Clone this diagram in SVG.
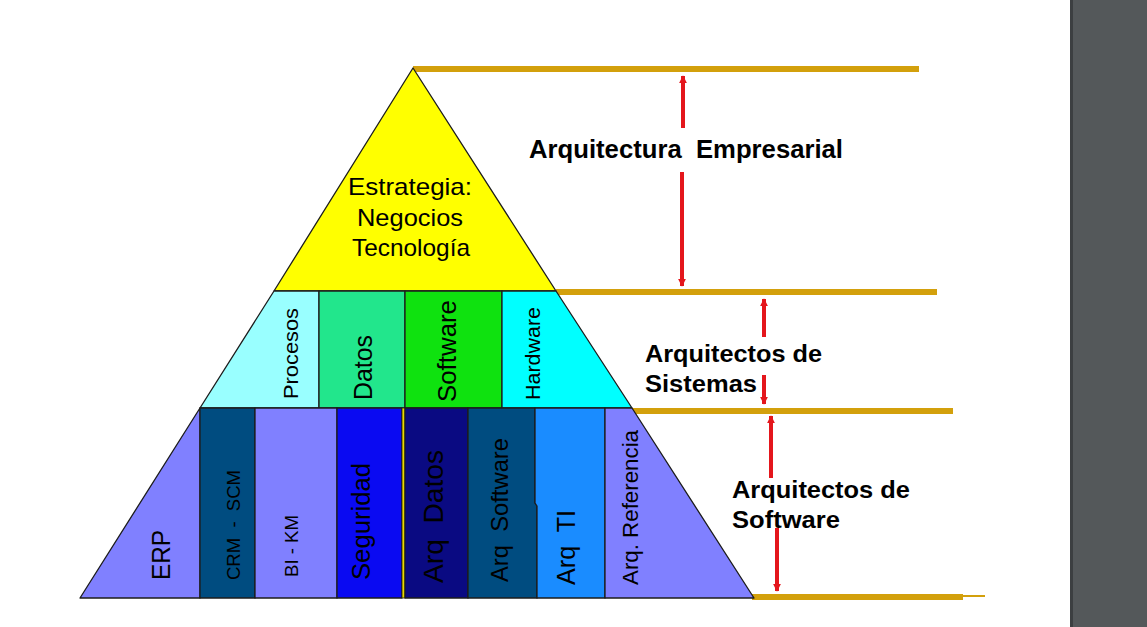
<svg xmlns="http://www.w3.org/2000/svg" width="1147" height="627" viewBox="0 0 1147 627">
<style>
.cell{stroke:#1c1c1c;stroke-width:1.3;stroke-linejoin:round}
.lbl{font-family:"Liberation Sans",Arial,sans-serif;fill:#000}
.vt{font-family:"Liberation Sans",Arial,sans-serif;fill:#000}
.pre{white-space:pre}
.bold{font-family:"Liberation Sans",Arial,sans-serif;font-weight:bold;fill:#000}
.gold{stroke:#d3a00c;stroke-width:6;fill:none}
.red{stroke:#e4161c;stroke-width:4;fill:none}
</style>
<defs>
<marker id="ah" markerUnits="userSpaceOnUse" viewBox="0 0 10 10" refX="9" refY="5" markerWidth="8" markerHeight="9" orient="auto">
<path d="M0,0 L10,5 L0,10 z" fill="#e4161c"/>
</marker>
</defs>
<rect x="0" y="0" width="1147" height="627" fill="#ffffff"/>
<rect x="1070" y="0" width="77" height="627" fill="#54585a"/>
<rect x="1070" y="0" width="3" height="627" fill="#3c3f41"/>

<g id="guides">
<line class="gold" x1="413" y1="69" x2="919" y2="69"/>
<line class="gold" x1="556" y1="292" x2="937" y2="292"/>
<line class="gold" x1="632" y1="411" x2="953" y2="411"/>
<line class="gold" x1="752" y1="597" x2="963" y2="597"/>
<line x1="960" y1="596" x2="985" y2="596" stroke="#d3a00c" stroke-width="2"/>
</g>

<g id="estrategia">
<polygon class="cell" points="413,68 556,291 274,291" fill="#ffff00"/>
<text class="lbl" font-size="24" text-anchor="middle" x="410" y="195" textLength="124" lengthAdjust="spacingAndGlyphs">Estrategia:</text>
<text class="lbl" font-size="24" text-anchor="middle" x="410" y="226" textLength="106" lengthAdjust="spacingAndGlyphs">Negocios</text>
<text class="lbl" font-size="24" text-anchor="middle" x="411" y="256" textLength="118" lengthAdjust="spacingAndGlyphs">Tecnología</text>
</g>

<g id="procesos">
<polygon class="cell" points="274,291 319,291 319,408 200,408" fill="#99ffff"/>
<text class="vt" font-size="21" transform="translate(298,399) rotate(-90)" textLength="91" lengthAdjust="spacingAndGlyphs">Procesos</text>
</g>
<g id="datos">
<rect class="cell" x="319" y="291" width="86" height="117" fill="#22e68c"/>
<text class="vt" font-size="25" transform="translate(372,400) rotate(-90)" textLength="65" lengthAdjust="spacingAndGlyphs">Datos</text>
</g>
<g id="software">
<rect class="cell" x="405" y="291" width="97" height="117" fill="#0fe20f"/>
<text class="vt" font-size="25" transform="translate(456,402) rotate(-90)" textLength="102" lengthAdjust="spacingAndGlyphs">Software</text>
</g>
<g id="hardware">
<polygon class="cell" points="502,291 556,291 632,408 502,408" fill="#00ffff"/>
<text class="vt" font-size="21" transform="translate(540,400) rotate(-90)" textLength="93" lengthAdjust="spacingAndGlyphs">Hardware</text>
</g>

<g id="erp">
<polygon class="cell" points="200,408 200,598 80,598" fill="#8080ff"/>
<text class="vt" font-size="26" transform="translate(170,580) rotate(-90)" textLength="50" lengthAdjust="spacingAndGlyphs">ERP</text>
</g>
<g id="crm-scm">
<rect class="cell" x="200" y="408" width="55" height="190" fill="#004c80"/>
<text class="vt pre" font-size="19" transform="translate(240,580) rotate(-90)" textLength="110" lengthAdjust="spacingAndGlyphs" fill="#06182a">CRM  -  SCM</text>
</g>
<g id="bi-km">
<rect class="cell" x="255" y="408" width="82" height="190" fill="#8080ff"/>
<text class="vt" font-size="18" transform="translate(298,577) rotate(-90)" textLength="62" lengthAdjust="spacingAndGlyphs">BI - KM</text>
</g>
<g id="seguridad">
<rect class="cell" x="337" y="408" width="65" height="190" fill="#0a0af2"/>
<text class="vt" font-size="25" transform="translate(370,580) rotate(-90)" textLength="117" lengthAdjust="spacingAndGlyphs">Seguridad</text>
</g>
<rect x="402" y="408" width="3" height="190" fill="#e8d800" stroke="#1c1c1c" stroke-width="0.8"/>
<g id="arq-datos">
<rect class="cell" x="405" y="408" width="63" height="190" fill="#0a0a82"/>
<text class="vt pre" font-size="27" transform="translate(443,583) rotate(-90)" textLength="133" lengthAdjust="spacingAndGlyphs">Arq  Datos</text>
</g>
<g id="arq-software">
<polygon class="cell" points="468,408 535,408 535,503 537,506 537,598 468,598" fill="#004c80"/>
<text class="vt pre" font-size="24" transform="translate(508,582) rotate(-90)" textLength="144" lengthAdjust="spacingAndGlyphs">Arq  Software</text>
</g>
<g id="arq-ti">
<polygon class="cell" points="535,408 605,408 605,598 537,598 537,506 535,503" fill="#1a8cff"/>
<text class="vt pre" font-size="25" transform="translate(575,585) rotate(-90)" textLength="75" lengthAdjust="spacingAndGlyphs">Arq  TI</text>
</g>
<g id="arq-referencia">
<polygon class="cell" points="605,408 632,408 754,598 605,598" fill="#8080ff"/>
<text class="vt" font-size="22" transform="translate(638,585) rotate(-90)" textLength="155" lengthAdjust="spacingAndGlyphs">Arq. Referencia</text>
</g>

<g id="label-empresarial">
<text class="bold pre" font-size="25" x="529" y="158" textLength="314" lengthAdjust="spacingAndGlyphs">Arquitectura  Empresarial</text>
</g>
<g id="label-sistemas">
<text class="bold" font-size="23" x="645" y="362" textLength="177" lengthAdjust="spacingAndGlyphs">Arquitectos de</text>
<text class="bold" font-size="23" x="645" y="392" textLength="112" lengthAdjust="spacingAndGlyphs">Sistemas</text>
</g>
<g id="label-software">
<text class="bold" font-size="23" x="732" y="498" textLength="178" lengthAdjust="spacingAndGlyphs">Arquitectos de</text>
<text class="bold" font-size="23" x="732" y="528" textLength="108" lengthAdjust="spacingAndGlyphs">Software</text>
</g>

<g id="connectors">
<path class="red" d="M683,128 L683,76" marker-end="url(#ah)"/>
<path class="red" d="M682,172 L682,286" marker-end="url(#ah)"/>
<path class="red" d="M764,337 L764,299" marker-end="url(#ah)"/>
<path class="red" d="M764,375 L764,404" marker-end="url(#ah)"/>
<path class="red" d="M771,478 L771,416" marker-end="url(#ah)"/>
<path class="red" d="M777,528 L777,591" marker-end="url(#ah)"/>
</g>
</svg>
